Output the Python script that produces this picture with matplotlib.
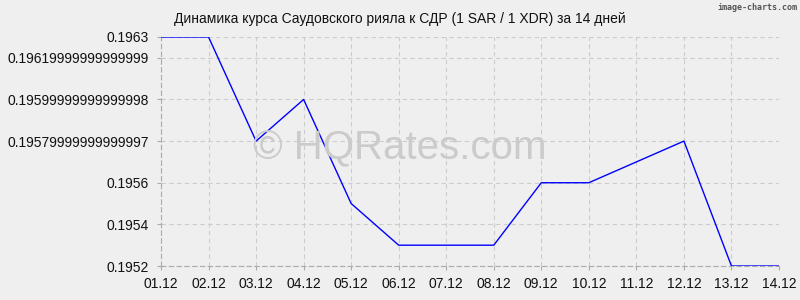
import matplotlib.pyplot as plt

dates = ['01.12', '02.12', '03.12', '04.12', '05.12', '06.12', '07.12',
         '08.12', '09.12', '10.12', '11.12', '12.12', '13.12', '14.12']
rates = [0.1963, 0.1963, 0.1958, 0.1960, 0.1955, 0.1953, 0.1953,
         0.1953, 0.1956, 0.1956, 0.1957, 0.1958, 0.1952, 0.1952]
ytick_vals = [0.1952, 0.1954, 0.1956, 0.1958, 0.1960, 0.1962, 0.1963]
ytick_labels = ['0.1952', '0.1954', '0.1956', '0.19579999999999997',
                '0.19599999999999998', '0.19619999999999999', '0.1963']

plt.rcParams['font.family'] = ['Liberation Sans', 'DejaVu Sans']

fig = plt.figure(figsize=(8, 3), dpi=100, facecolor='#efefef')
ax = fig.add_axes([0.20125, 0.1133, 0.7725, 0.7634])
ax.set_facecolor('#efefef')

x = list(range(len(dates)))
ax.plot(x, rates, color='#0000ff', lw=1, zorder=3)

ax.set_xlim(0, len(dates) - 1)
ax.set_ylim(0.1952, 0.1963)
ax.set_xticks(x)
ax.set_xticklabels(dates)
ax.set_yticks(ytick_vals)
ax.set_yticklabels(ytick_labels)
ax.tick_params(labelsize=10, length=3, color='#aaaaaa', labelcolor='#111111')
ax.tick_params(axis='y', pad=6)
ax.tick_params(axis='x', pad=5)

ax.grid(True, color='#cccccc', linestyle=(0, (4, 3)), lw=0.8)
for side in ['top', 'right']:
    ax.spines[side].set_visible(False)
for side in ['left', 'bottom']:
    ax.spines[side].set_color('#aaaaaa')
    ax.spines[side].set_linestyle((0, (4, 3)))
    ax.spines[side].set_linewidth(0.8)

fig.text(0.5, 0.935, 'Динамика курса Саудовского рияла к СДР (1 SAR / 1 XDR) за 14 дней',
         ha='center', va='center', fontsize=10, color='#111111')
fig.text(0.997, 0.99, 'image-charts.com', ha='right', va='top',
         fontsize=6, color='#555555', family='DejaVu Sans Mono', fontweight='bold')
fig.text(0.5, 0.505, '© HQRates.com', ha='center', va='center',
         fontsize=29, color='#cbcbcb', zorder=0)

fig.savefig('out.png', dpi=100, facecolor=fig.get_facecolor())
